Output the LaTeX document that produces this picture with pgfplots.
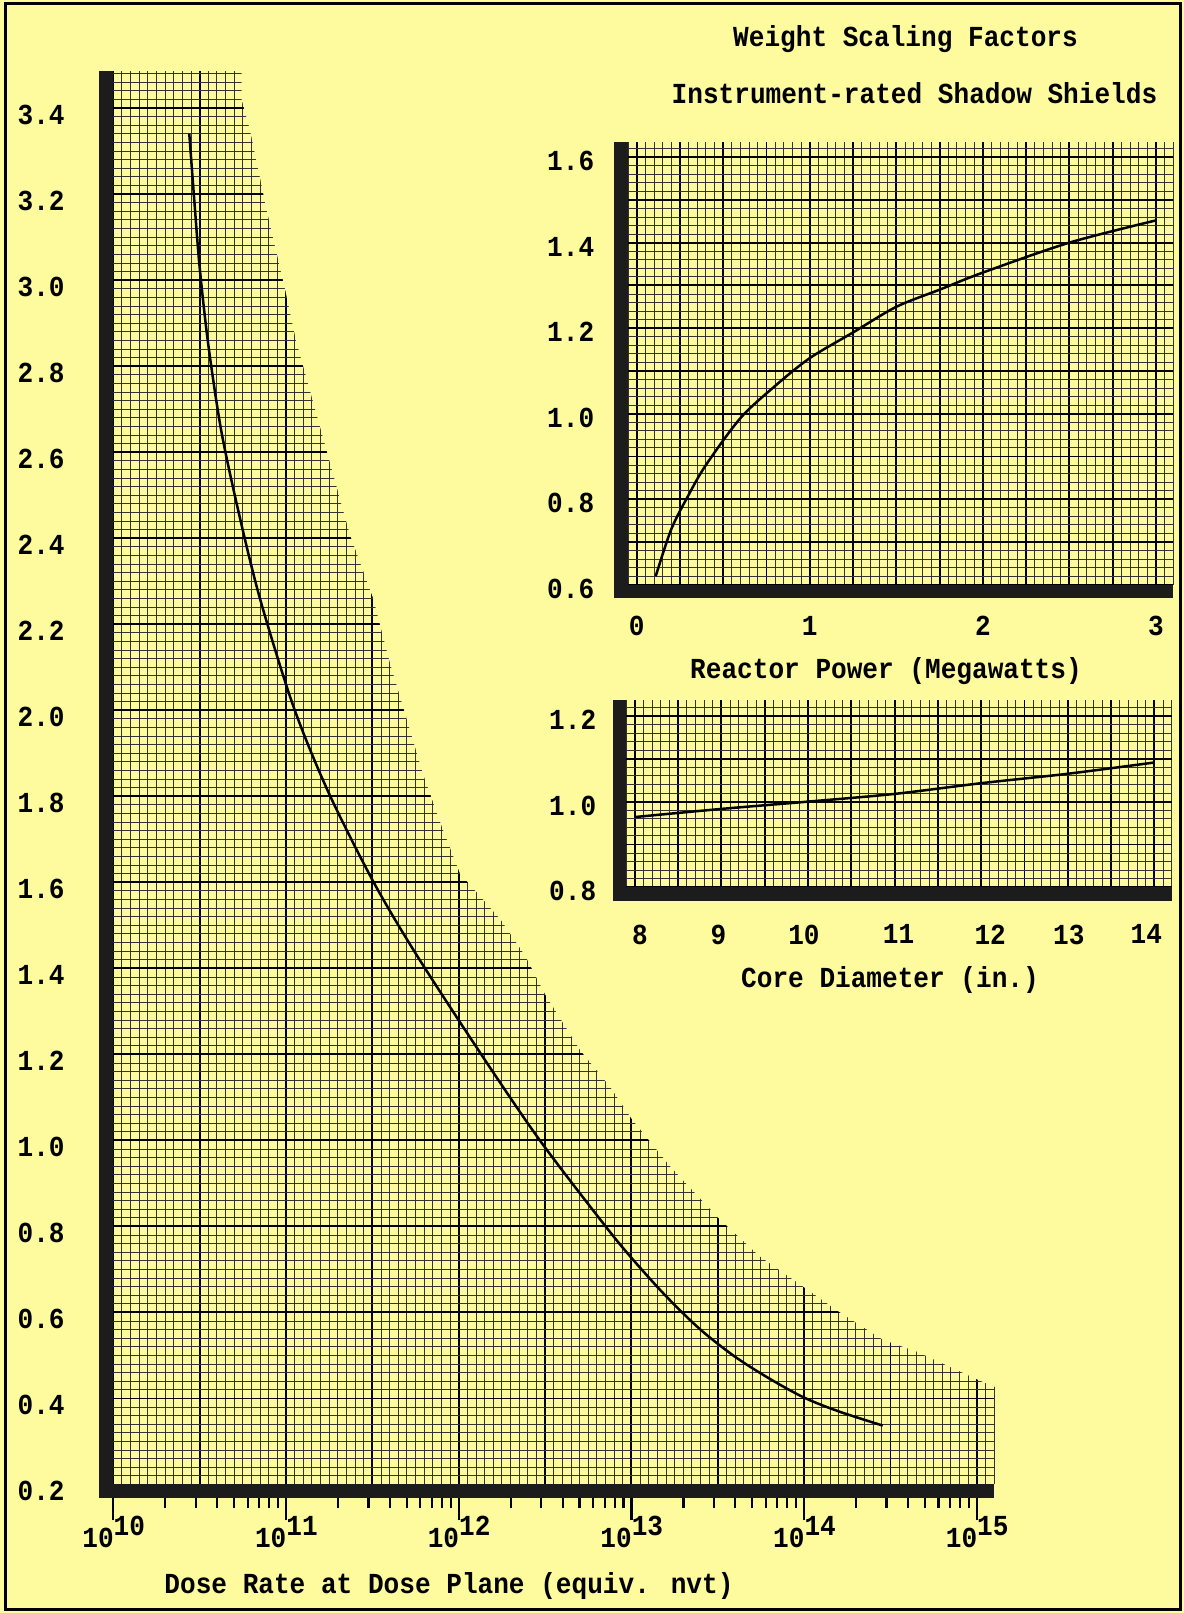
\documentclass[border=0pt]{standalone}
\usepackage{fontspec}
\newfontfamily\tw{Liberation Mono}[FakeStretch=0.9]
\usepackage{pgfplots}
\pgfplotsset{compat=1.18}
\definecolor{bg}{RGB}{253,251,158}
\definecolor{barc}{RGB}{28,28,28}
\newcommand\tf{\tw\bfseries\fontsize{14.5}{17}\selectfont}
\newcommand\dec[1]{\llap{10}\raisebox{6pt}{#1}}
\newcommand\sh[2]{\makebox[0pt][c]{\hspace*{#1}#2}}
\pgfplotsset{
  paper/.style={
    scale only axis, anchor=south west,
    axis line style={draw=none},
    grid=both,
    major grid style={black, line width=0.95pt},
    minor grid style={black!80, line width=0.45pt},
    major tick length=0pt, minor tick length=0pt,
    tick label style={font=\tf, inner sep=0pt},
  }
}
\begin{document}
\begin{tikzpicture}
\useasboundingbox (0,0) rectangle (592pt,806.5pt);
\fill[bg] (0,0) rectangle (592pt,806.5pt);
\draw[black, line width=1.5pt] (2.5pt,1.5pt) rectangle (590pt,804.8pt);

% ---------------- main chart: graph paper, envelope and curve
\begin{axis}[paper, name=main, at={(56.65pt,64.25pt)},
  width=440.4pt, height=706.9pt, clip=false,
  xmin=10, xmax=15.1, ymin=0.2, ymax=3.487,
  xtick={10,10.5,11,11.5,12,12.5,13,13.5,14,14.5,15},
  xticklabels={\dec{10},,\dec{11},,\dec{12},,\dec{13},,\dec{14},,\dec{15}},
  minor xtick={10,10.05,...,15.08},
  ytick={0.2,0.4,0.6,0.8,1.0,1.2,1.4,1.6,1.8,2.0,2.2,2.4,2.6,2.8,3.0,3.2,3.4},
  yticklabels={0.2,0.4,0.6,0.8,1.0,1.2,1.4,1.6,1.8,2.0,2.2,2.4,2.6,2.8,3.0,3.2,3.4},
  minor ytick={0.2,0.22,...,3.485},
  xticklabel style={anchor=north west, yshift=-15.75pt},
  yticklabel style={anchor=east, xshift=-24.15pt, yshift=-3.3pt},
]
\addplot[fill=bg, draw=none] coordinates {
 (10.743,3.49) (10.743,3.42) (10.791,3.35) (10.838,3.26) (10.890,3.16)
 (10.942,3.07) (10.994,2.98) (11.058,2.86) (11.238,2.60) (11.369,2.41)
 (11.505,2.26) (11.602,2.11) (11.699,1.98) (11.795,1.85) (11.902,1.73)
 (12.008,1.62) (12.12,1.57) (12.249,1.51) (12.384,1.43) (12.500,1.34)
 (12.703,1.21) (12.876,1.125) (13.002,1.05) (13.224,0.94) (13.503,0.82)
 (13.745,0.73) (13.995,0.66) (14.208,0.60) (14.459,0.536) (14.652,0.509)
 (14.864,0.470) (15.009,0.443) (15.105,0.427) (15.105,3.49)
} -- cycle;
\addplot[smooth, black, line width=1.25pt] coordinates {
 (10.44,3.34) (10.47,3.18) (10.50,3.03) (10.55,2.85) (10.625,2.65)
 (10.726,2.46) (10.849,2.26) (11.042,2.01) (11.245,1.81) (11.505,1.602)
 (11.75,1.435) (12.104,1.216) (12.461,1.005) (12.837,0.807) (13.0,0.727)
 (13.2,0.638) (13.4,0.560) (13.6,0.497) (13.8,0.446) (14.0,0.402)
 (14.2,0.370) (14.455,0.337)
};
\end{axis}

% ---------------- main chart: logarithmic tick marks
\begin{axis}[scale only axis, anchor=south west, at={(56.65pt,64.25pt)},
  width=431.76pt, height=706.9pt,
  xmin=10, xmax=15, ymin=0, ymax=1,
  axis x line*=bottom, axis y line=none, ytick=\empty,
  x axis line style={draw=none},
  xtick={10,11,12,13,14,15}, xticklabels={},
  minor xtick={10.30103,10.47712,10.60206,10.69897,10.77815,10.84510,10.90309,10.95424,
               11.30103,11.47712,11.60206,11.69897,11.77815,11.84510,11.90309,11.95424,
               12.30103,12.47712,12.60206,12.69897,12.77815,12.84510,12.90309,12.95424,
               13.30103,13.47712,13.60206,13.69897,13.77815,13.84510,13.90309,13.95424,
               14.30103,14.47712,14.60206,14.69897,14.77815,14.84510,14.90309,14.95424},
  tick align=outside, major tick length=18pt, minor tick length=12pt,
  tick style={black, line width=1.1pt},
]
\end{axis}

% ---------------- inset 1: reactor power
\begin{axis}[paper, name=ins1, at={(314pt,514.1pt)},
  width=272.65pt, height=221.55pt,
  xmin=-0.05, xmax=3.1, ymin=0.6, ymax=1.636,
  xtick={0,0.25,0.5,0.75,1,1.25,1.5,1.75,2,2.25,2.5,2.75,3},
  xticklabels={0,,,,1,,,,2,,,,3},
  minor xtick={-0.05,0,...,3.1},
  ytick={0.6,0.7,0.8,0.9,1.0,1.1,1.2,1.3,1.4,1.5,1.6},
  yticklabels={0.6,,0.8,,1.0,,1.2,,1.4,,1.6},
  minor ytick={0.6,0.62,...,1.635},
  xticklabel style={anchor=north, yshift=-15.5pt},
  yticklabel style={anchor=east, xshift=-16.7pt, yshift=-2pt},
]
\addplot[smooth, black, line width=1.25pt] coordinates {
 (0.11,0.62) (0.2,0.73) (0.3,0.81) (0.4,0.88) (0.6,0.99) (0.8,1.065)
 (1.0,1.13) (1.25,1.19) (1.5,1.25) (1.75,1.29) (2.0,1.33) (2.5,1.40)
 (3.0,1.452)
};
\end{axis}

% ---------------- inset 2: core diameter
\begin{axis}[paper, name=ins2, at={(313.05pt,362.8pt)},
  width=272.8pt, height=93.7pt,
  xmin=7.9, xmax=14.2, ymin=0.8, ymax=1.237,
  xtick={8,8.5,9,9.5,10,10.5,11,11.5,12,12.5,13,13.5,14},
  xticklabels={\sh{5.2pt}{8},,\sh{-3pt}{9},,\sh{-4pt}{10},,\sh{4pt}{11},,\sh{9pt}{12},,\sh{1pt}{13},,\sh{-8pt}{14}},
  minor xtick={7.9,8.0,...,14.2},
  ytick={0.8,0.9,1.0,1.1,1.2},
  yticklabels={0.8,,1.0,,1.2},
  minor ytick={0.8,0.82,...,1.236},
  xticklabel style={anchor=north, yshift=-18.5pt},
  yticklabel style={anchor=east, xshift=-14.75pt, yshift=-2pt},
]
\addplot[smooth, black, line width=1.25pt] coordinates {
 (8.0,0.964) (9.0,0.983) (10.0,1.0) (11.0,1.018) (12.0,1.043) (13.0,1.065) (13.99,1.091)
};
\end{axis}

% ---------------- heavy axis bars
\fill[barc] ([xshift=-7pt,yshift=-7pt]main.south west) rectangle (main.north west);
\fill[barc] ([xshift=-7pt,yshift=-7pt]main.south west) rectangle (main.south east);
\fill[barc] ([xshift=-7pt,yshift=-6.6pt]ins1.south west) rectangle (ins1.north west);
\fill[barc] ([xshift=-7pt,yshift=-6.6pt]ins1.south west) rectangle (ins1.south east);
\fill[barc] ([xshift=-6.7pt,yshift=-7pt]ins2.south west) rectangle (ins2.north west);
\fill[barc] ([xshift=-6.7pt,yshift=-7pt]ins2.south west) rectangle (ins2.south east);

% ---------------- texts
\node[font=\tf, anchor=base, inner sep=0pt] at (452.75pt,783.4pt) {Weight Scaling Factors};
\node[font=\tf, anchor=base, inner sep=0pt] at (457.25pt,754.6pt) {Instrument-rated Shadow Shields};
\node[font=\tf, anchor=base, inner sep=0pt] at (443pt,467.1pt) {Reactor Power (Megawatts)};
\node[font=\tf, anchor=base, inner sep=0pt] at (445pt,312.75pt) {Core Diameter (in.)};
\node[font=\tf, anchor=base, inner sep=0pt] at (224.5pt,9.8pt) {Dose Rate at Dose Plane (equiv. nvt)};
\end{tikzpicture}
\end{document}
